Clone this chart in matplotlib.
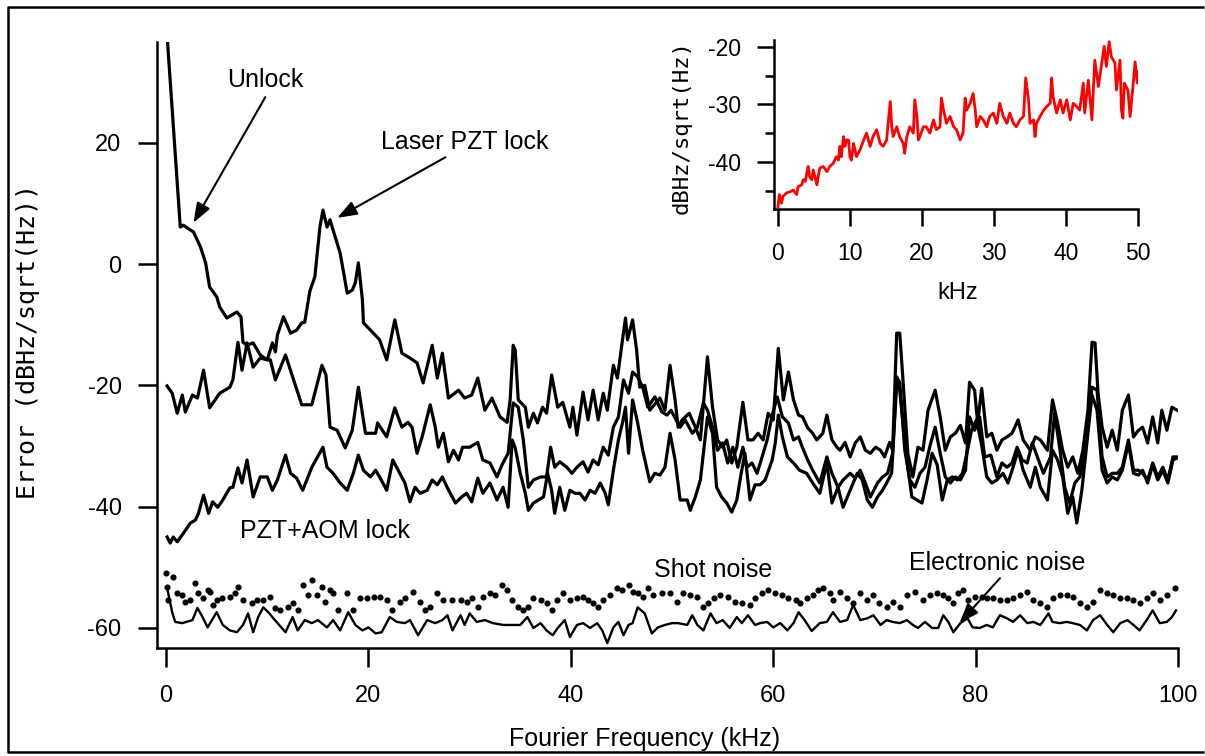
import numpy as np
import matplotlib
matplotlib.use("Agg")
import matplotlib.pyplot as plt
from matplotlib.lines import Line2D

plt.rcParams['font.family'] = ['Liberation Sans', 'DejaVu Sans']
plt.rcParams['axes.unicode_minus'] = False

# (frequency kHz, error dBHz/sqrt(Hz)) for each trace
laser = [(0.1,-20.1),(0.6,-21.3),(1.1,-24.6),(1.6,-21.6),(1.9,-24.4),(2.6,-21.6),(3.1,-22.1),(3.7,-17.5),(4.3,-23.7),
         (5.3,-21.3),(6.3,-20.3),(6.6,-19.1),(7.1,-12.9),(7.5,-17.5),(8.0,-13.0),(8.6,-17.0),(9.3,-15.5),(10.0,-15.8),
         (10.5,-13.0),(10.8,-14.5),(11.0,-11.7),(11.6,-8.7),(12.3,-11.4),(12.9,-10.9),(13.4,-9.7),(13.7,-9.6),(14.2,-4.5),
         (14.7,-2.1),(15.2,6.1),(15.5,8.9),(15.9,6.1),(16.2,7.3),(16.5,5.6),(17.2,1.8),(17.9,-4.8),(18.4,-4.3),(18.7,-3.1),
         (19.0,0.2),(19.4,-5.9),(19.5,-9.7),(20.2,-10.9),(21.1,-12.5),(21.8,-15.8),(22.6,-9.2),(23.3,-14.7),(24.1,-15.5),
         (24.8,-16.3),(25.4,-19.6),(26.3,-13.4),(26.8,-18.8),(27.3,-14.7),(27.9,-22.1),(28.9,-20.8),(29.5,-22.1),(30.2,-21.6),
         (30.8,-18.8),(31.5,-24.1),(32.2,-22.1),(33.0,-25.2),(33.7,-26.1),(34.0,-22.4),(34.3,-13.4),(34.5,-14.2),(34.8,-22.4),
         (35.5,-23.6),(35.8,-26.9),(36.3,-24.6),(36.7,-26.2),(37.2,-23.6),(37.6,-24.6),(38.1,-18.3),(38.7,-23.6),(39.2,-22.8),
         (39.9,-26.9),(40.2,-23.6),(40.6,-28.2),(41.2,-21.1),(41.7,-25.7),(42.2,-20.8),(42.7,-25.7),(43.2,-21.3),(43.6,-24.1),
         (44.2,-16.7),(44.6,-18.8),(45.1,-12.5),(45.4,-8.9),(45.6,-12.5),(46.1,-9.2),(46.5,-14.2),(46.8,-20.3),(47.3,-20.0),
         (47.8,-24.1),(48.8,-22.1),(49.3,-24.1),(49.8,-16.7),(50.3,-22.4),(50.6,-26.9),(51.0,-25.7),(51.7,-24.6),(52.3,-26.9),
         (52.8,-29.0),(53.5,-15.3),(54.0,-23.6),(54.5,-29.0),(55.0,-30.2),(55.4,-29.0),(55.9,-32.8),(56.4,-30.2),(57.0,-22.8),
         (57.5,-29.0),(58.0,-29.0),(58.5,-27.9),(59.0,-29.0),(59.5,-24.6),(60.0,-25.7),(60.5,-13.9),(61.0,-22.4),(61.5,-17.8),
         (62.0,-22.4),(62.5,-24.9),(62.9,-25.2),(63.4,-27.0),(63.9,-27.9),(64.3,-29.0),(64.9,-27.9),(65.3,-24.9),(65.8,-29.0),
         (66.3,-30.2),(66.6,-30.7),(67.1,-29.4),(67.6,-31.8),(68.1,-29.5),(68.6,-28.5),(69.1,-30.7),(69.6,-31.2),(70.1,-30.2),
         (70.6,-30.7),(71.0,-31.8),(71.5,-29.4),(71.8,-30.7),(72.2,-11.4),(72.5,-11.4),(72.8,-18.6),(73.3,-31.2),(73.8,-35.1),
         (74.3,-30.2),(74.8,-30.7),(75.3,-24.1),(76.0,-20.8),(76.5,-25.2),(77.0,-30.7),(77.5,-28.5),(78.0,-27.9),(78.5,-26.6),
         (79.0,-29.5),(79.4,-19.5),(79.9,-20.8),(80.2,-26.2),(80.6,-20.5),(81.1,-28.5),(81.6,-27.9),(82.1,-30.7),(82.6,-29.0),
         (83.1,-28.5),(83.6,-27.9),(84.2,-25.7),(84.7,-29.0),(85.4,-30.7),(85.9,-28.5),(86.4,-29.0),(87.1,-30.7),(87.6,-22.4),
         (88.1,-26.2),(88.6,-30.7),(89.1,-33.5),(89.6,-31.8),(90.1,-34.5),(90.6,-30.7),(91.1,-24.1),(91.5,-12.9),(91.8,-13.0),
         (92.1,-21.3),(92.5,-26.9),(93.0,-30.2),(93.5,-27.4),(94.0,-30.7),(94.5,-24.1),(95.1,-21.6),(95.6,-28.5),(96.1,-27.4),
         (96.5,-26.9),(97.0,-29.5),(97.5,-25.2),(98.0,-29.5),(98.4,-24.1),(98.9,-27.4),(99.4,-23.6),(99.9,-24.1)]

unlock = [(0.0,40.0),(1.4,6.1),(1.7,6.4),(2.4,5.6),(2.7,5.3),(3.4,2.8),(3.9,0.2),(4.3,-3.8),(5.0,-5.4),(5.3,-7.1),
          (6.0,-8.9),(6.5,-8.4),(7.0,-7.9),(7.4,-8.7),(7.6,-12.9),(8.0,-13.4),(8.6,-13.0),(9.3,-15.0),(10.0,-15.8),
          (10.3,-15.8),(10.8,-19.1),(11.8,-15.0),(12.5,-18.6),(13.4,-23.2),(14.4,-23.2),(15.4,-16.7),(15.8,-18.3),
          (16.2,-26.9),(16.9,-27.4),(17.7,-30.3),(18.4,-27.4),(19.0,-20.3),(19.7,-27.9),(20.7,-27.9),(20.9,-26.2),
          (21.8,-28.5),(22.6,-23.7),(23.3,-26.9),(23.9,-26.1),(24.3,-26.9),(24.8,-31.2),(25.3,-28.5),(26.1,-23.2),
          (26.6,-26.9),(26.9,-30.2),(27.4,-27.9),(27.9,-32.6),(28.4,-30.7),(28.9,-32.3),(29.3,-30.2),(30.0,-30.2),
          (30.8,-29.4),(31.3,-32.3),(32.0,-32.8),(32.7,-35.1),(33.2,-33.1),(33.8,-31.2),(34.3,-22.9),(34.8,-23.6),
          (35.3,-29.0),(35.8,-36.8),(36.3,-35.6),(37.0,-35.1),(37.6,-35.1),(38.0,-30.2),(38.4,-33.5),(38.9,-32.6),
          (39.6,-33.5),(40.1,-34.5),(40.6,-33.5),(41.2,-32.6),(41.7,-34.3),(42.2,-32.3),(42.7,-33.1),(43.2,-30.2),
          (43.7,-31.5),(44.2,-26.9),(44.7,-25.2),(45.2,-19.1),(45.7,-21.3),(46.1,-17.8),(46.6,-18.6),(47.1,-20.3),
          (47.6,-23.6),(48.3,-21.9),(49.0,-24.4),(49.5,-24.9),(49.9,-24.1),(50.3,-25.4),(50.8,-26.9),(51.3,-25.7),
          (52.0,-27.9),(52.5,-26.9),(53.1,-22.9),(53.5,-24.1),(54.0,-26.9),(54.5,-30.7),(55.0,-29.5),(55.5,-32.8),
          (56.0,-30.2),(56.5,-33.5),(57.0,-30.2),(57.4,-33.5),(57.9,-32.8),(58.4,-34.5),(58.9,-31.8),(59.4,-29.0),
          (59.9,-24.9),(60.4,-21.9),(60.9,-25.2),(61.5,-26.2),(62.0,-29.0),(62.5,-28.5),(62.9,-30.3),(63.4,-32.3),
          (63.9,-34.0),(64.6,-36.1),(65.3,-31.8),(65.8,-34.5),(66.4,-36.8),(66.9,-35.6),(67.6,-34.5),(68.1,-35.3),
          (68.6,-34.0),(69.1,-36.1),(69.6,-38.4),(70.3,-36.1),(70.8,-35.1),(71.3,-34.5),(71.8,-31.2),(72.2,-18.6),
          (72.5,-19.5),(73.0,-30.7),(73.5,-35.6),(74.0,-36.8),(74.5,-34.5),(75.0,-33.5),(75.5,-29.9),(76.0,-26.9),
          (76.5,-31.2),(77.0,-35.1),(77.5,-36.1),(78.0,-35.1),(78.5,-35.6),(79.0,-34.0),(79.4,-25.2),(79.9,-27.4),
          (80.4,-25.2),(80.9,-31.8),(81.5,-31.5),(82.1,-35.1),(82.6,-32.8),(83.1,-33.5),(83.6,-32.8),(84.1,-30.2),
          (84.6,-32.3),(85.1,-32.8),(85.6,-29.5),(86.1,-31.8),(86.7,-34.5),(87.4,-31.8),(87.8,-24.6),(88.3,-30.2),
          (88.8,-36.8),(89.3,-39.4),(89.8,-36.1),(90.3,-35.1),(90.8,-31.2),(91.5,-20.3),(92.0,-20.8),(92.5,-31.8),
          (93.0,-35.1),(93.5,-34.5),(94.0,-34.5),(94.5,-33.5),(95.1,-29.0),(95.6,-34.0),(96.1,-34.0),(96.5,-34.5),
          (97.0,-35.6),(97.5,-32.8),(98.0,-35.1),(98.5,-33.5),(99.0,-35.6),(99.5,-31.8),(99.9,-31.8)]

aom = [(0.1,-45.0),(0.4,-46.0),(0.7,-45.0),(1.1,-45.8),(1.7,-44.4),(2.4,-42.7),(2.9,-42.2),(3.2,-41.1),(3.7,-38.1),
       (4.2,-41.1),(4.6,-39.2),(5.1,-40.1),(5.6,-38.9),(6.3,-36.9),(6.6,-36.8),(7.1,-33.6),(7.5,-36.1),(8.0,-32.3),
       (8.6,-38.4),(9.3,-35.1),(10.0,-35.1),(10.5,-37.3),(11.0,-35.6),(11.8,-31.5),(12.3,-34.5),(12.9,-35.3),(13.5,-37.3),
       (14.4,-33.5),(15.5,-30.2),(15.9,-33.5),(16.5,-34.5),(17.2,-36.1),(17.9,-37.3),(18.5,-34.5),(19.0,-31.5),(19.5,-34.0),
       (20.2,-35.1),(20.7,-34.0),(21.1,-35.1),(21.8,-37.3),(22.4,-32.3),(23.1,-34.5),(23.6,-36.1),(24.1,-39.2),(24.6,-36.8),
       (25.1,-37.8),(25.8,-37.3),(26.3,-35.6),(26.8,-36.4),(27.3,-35.1),(27.8,-36.9),(28.6,-39.4),(29.2,-38.4),(29.7,-37.8),
       (30.2,-39.2),(30.8,-35.3),(31.3,-37.8),(32.0,-36.1),(32.7,-38.9),(33.3,-36.8),(33.8,-40.1),(34.2,-29.0),(34.5,-30.3),
       (35.0,-34.5),(35.5,-37.8),(35.8,-40.6),(36.3,-39.4),(36.8,-38.9),(37.3,-38.4),(37.7,-34.5),(38.1,-37.3),(38.4,-41.1),
       (38.9,-36.8),(39.4,-40.6),(39.9,-37.3),(40.4,-37.8),(40.9,-37.8),(41.4,-38.9),(41.9,-37.3),(42.4,-37.8),(42.9,-36.1),
       (43.4,-37.8),(43.7,-39.7),(44.2,-34.0),(44.7,-29.0),(45.1,-26.2),(45.4,-23.6),(45.7,-31.2),(46.1,-22.4),(46.6,-26.2),
       (47.1,-30.7),(47.8,-35.9),(48.3,-34.5),(48.8,-34.8),(49.3,-33.5),(49.8,-27.9),(50.3,-32.3),(50.8,-38.9),(51.5,-38.9),
       (51.8,-40.6),(52.3,-38.4),(52.8,-35.6),(53.1,-31.2),(53.5,-25.2),(54.0,-27.9),(54.4,-36.8),(54.9,-38.4),(55.4,-39.4),
       (55.9,-40.9),(56.4,-38.9),(56.8,-34.8),(57.2,-31.2),(57.7,-38.9),(58.2,-36.4),(58.7,-36.4),(59.2,-35.6),(59.9,-32.3),
       (60.2,-29.5),(60.5,-24.9),(60.9,-28.5),(61.4,-31.8),(62.0,-32.8),(62.6,-34.0),(63.3,-34.5),(63.9,-36.1),(64.6,-37.8),
       (65.3,-32.8),(65.8,-39.4),(66.4,-36.8),(66.9,-40.1),(67.6,-37.3),(68.3,-34.5),(68.8,-35.6),(69.3,-38.9),(69.8,-40.1),
       (70.3,-38.4),(70.8,-37.3),(71.2,-36.1),(71.7,-34.5),(72.2,-19.6),(72.5,-20.8),(73.2,-32.3),(73.7,-38.4),(74.2,-38.9),
       (74.7,-39.4),(75.2,-35.6),(75.7,-31.2),(76.2,-33.1),(76.7,-38.9),(77.2,-35.6),(77.7,-35.1),(78.2,-35.6),(78.7,-34.5),
       (79.2,-30.7),(79.6,-27.4),(80.1,-25.7),(80.6,-29.9),(81.1,-35.1),(81.6,-36.1),(82.1,-35.6),(82.7,-34.5),(83.2,-36.1),
       (83.7,-33.5),(84.2,-30.7),(84.7,-34.0),(85.4,-36.8),(85.9,-33.5),(86.4,-36.8),(87.1,-38.9),(87.6,-30.7),(88.1,-32.3),
       (88.6,-35.1),(89.1,-41.1),(89.6,-38.4),(90.0,-42.7),(90.5,-37.3),(91.0,-29.5),(91.5,-21.6),(92.0,-24.1),(92.5,-34.0),
       (93.0,-36.1),(93.5,-35.1),(94.0,-35.6),(94.5,-34.0),(95.1,-29.5),(95.6,-34.5),(96.1,-34.8),(96.5,-34.0),(97.0,-36.1),
       (97.5,-33.1),(98.0,-35.6),(98.5,-34.0),(99.0,-36.1),(99.5,-32.3),(99.9,-32.0)]

shot = [(0.0,-51.0),(0.1,-53.3),(0.2,-55.4),(0.7,-51.6),(1.1,-54.2),(1.6,-54.6),(1.9,-55.7),(2.4,-55.4),(2.9,-52.6),
        (3.2,-54.2),(3.6,-55.1),(4.1,-53.8),(4.3,-54.1),(4.6,-56.2),(5.0,-55.4),(5.5,-55.1),(6.3,-54.9),(6.8,-54.2),
        (7.1,-53.3),(7.6,-55.4),(8.5,-55.9),(9.0,-55.4),(9.6,-55.4),(10.3,-54.9),(10.8,-56.7),(11.3,-57.1),(12.0,-56.6),
        (12.5,-55.9),(13.0,-57.1),(13.5,-52.9),(14.0,-54.6),(14.4,-52.1),(14.9,-54.6),(15.4,-53.3),(15.7,-55.7),(16.2,-53.8),
        (16.5,-54.2),(17.0,-57.1),(17.9,-54.2),(18.5,-57.1),(19.2,-55.1),(19.9,-55.1),(20.5,-54.9),(21.1,-54.9),(21.8,-55.4),
        (22.3,-57.1),(23.1,-55.7),(23.6,-55.1),(24.4,-54.1),(25.1,-55.7),(25.6,-57.1),(26.1,-56.6),(26.8,-54.2),(27.4,-55.4),
        (28.3,-55.4),(29.1,-55.4),(29.7,-55.7),(30.2,-55.1),(30.8,-56.6),(31.3,-54.9),(32.0,-54.2),(32.5,-54.6),(33.2,-52.9),
        (33.7,-53.8),(34.2,-55.4),(34.8,-56.6),(35.3,-57.1),(35.8,-56.6),(36.3,-55.1),(37.0,-55.4),(37.6,-55.9),(38.1,-57.1),
        (38.6,-55.4),(39.2,-54.2),(39.9,-55.4),(40.6,-55.1),(41.2,-54.9),(41.7,-55.4),(42.2,-55.9),(42.7,-56.6),(43.2,-55.4),
        (43.9,-54.6),(44.6,-53.4),(45.1,-53.8),(45.7,-52.9),(46.1,-54.1),(46.6,-54.2),(47.1,-54.9),(47.6,-53.4),(48.1,-54.6),
        (49.0,-54.2),(49.8,-54.2),(50.5,-55.7),(51.1,-54.2),(51.8,-54.6),(52.5,-54.9),(53.1,-56.6),(53.6,-55.9),(54.1,-55.1),
        (54.7,-54.6),(55.5,-54.9),(56.2,-55.7),(56.9,-55.9),(57.7,-56.2),(58.2,-55.1),(58.9,-54.2),(59.5,-53.8),(60.2,-54.2),
        (60.9,-54.6),(61.5,-55.1),(62.2,-55.4),(62.6,-55.9),(63.3,-55.1),(63.9,-54.6),(64.4,-53.8),(64.9,-53.4),(65.6,-54.2),
        (65.9,-55.4),(66.6,-54.1),(67.3,-55.1),(67.9,-55.9),(68.6,-54.2),(69.3,-55.4),(69.9,-54.6),(70.5,-55.9),(71.2,-56.6),
        (71.8,-55.7),(72.5,-56.6),(73.2,-54.6),(74.0,-54.1),(74.8,-55.4),(75.5,-54.6),(76.2,-54.2),(76.8,-54.6),(77.3,-55.1),
        (77.8,-55.9),(78.3,-54.2),(78.8,-53.8),(79.2,-55.4),(79.9,-54.9),(80.6,-54.9),(81.1,-55.1),(81.7,-55.1),(82.4,-55.4),
        (83.1,-55.4),(83.7,-55.1),(84.4,-54.6),(85.1,-54.1),(85.7,-55.4),(86.4,-55.9),(87.1,-56.6),(87.6,-55.1),(88.3,-54.6),
        (89.0,-54.6),(89.6,-54.9),(90.3,-55.9),(91.0,-56.6),(91.6,-55.7),(92.3,-53.8),(93.0,-54.2),(93.6,-54.6),(94.3,-55.1),
        (95.0,-55.1),(95.6,-55.4),(96.2,-55.9),(96.9,-55.1),(97.5,-54.2),(98.2,-55.4),(98.9,-54.6),(99.7,-53.4)]

electronic = [(0.1,-53.4),(0.6,-57.4),(0.9,-59.0),(1.6,-59.2),(2.6,-58.7),(3.1,-56.7),(3.6,-58.2),(4.1,-59.9),(5.0,-57.4),
              (5.6,-59.5),(6.3,-60.4),(7.0,-60.7),(7.6,-59.5),(8.1,-57.6),(8.6,-60.7),(9.1,-58.2),(9.6,-56.6),(10.1,-57.4),
              (10.6,-58.4),(11.8,-60.7),(12.5,-58.2),(13.0,-60.4),(13.7,-58.7),(14.4,-59.2),(15.0,-58.7),(15.9,-59.9),
              (16.5,-58.7),(17.2,-60.4),(18.0,-57.4),(18.7,-59.5),(19.4,-60.4),(20.0,-59.9),(20.7,-60.9),(21.3,-60.7),
              (22.1,-58.2),(22.8,-59.0),(23.6,-59.2),(24.1,-58.7),(24.9,-61.2),(25.8,-58.7),(26.6,-59.2),(27.3,-58.7),
              (27.8,-57.9),(28.3,-60.4),(29.1,-57.9),(29.5,-59.5),(30.0,-57.6),(30.7,-59.0),(31.5,-58.7),(32.3,-59.2),
              (33.3,-59.5),(34.2,-59.5),(35.0,-59.5),(35.7,-58.2),(36.3,-60.0),(37.0,-59.2),(37.6,-60.4),(38.2,-61.2),
              (38.7,-60.0),(39.4,-58.7),(39.9,-61.5),(40.6,-59.5),(41.2,-59.2),(41.9,-60.0),(42.6,-59.2),(43.1,-60.4),
              (43.6,-62.5),(44.2,-59.9),(44.7,-59.0),(45.2,-61.2),(45.7,-59.5),(46.1,-59.2),(46.6,-56.6),(47.3,-57.6),
              (48.0,-60.9),(48.6,-59.9),(49.3,-59.5),(50.0,-59.2),(50.6,-59.2),(51.5,-59.5),(52.0,-57.9),(52.5,-59.5),
              (53.1,-60.4),(53.8,-57.6),(54.4,-59.2),(55.0,-58.7),(55.7,-60.0),(56.4,-58.2),(56.9,-59.2),(57.5,-57.9),
              (58.2,-59.5),(58.7,-59.2),(59.4,-59.0),(60.0,-59.9),(60.7,-59.2),(61.4,-60.4),(62.0,-59.2),(62.5,-57.4),
              (63.1,-58.7),(63.8,-60.5),(64.6,-59.2),(65.3,-59.0),(65.9,-57.4),(66.6,-59.0),(67.3,-58.7),(67.9,-56.2),
              (68.6,-58.7),(69.3,-58.4),(69.9,-57.9),(70.6,-59.5),(71.2,-58.7),(71.8,-59.0),(72.5,-59.2),(73.2,-58.7),
              (73.8,-59.5),(74.3,-60.0),(75.0,-59.0),(75.7,-60.0),(76.3,-60.0),(76.8,-57.9),(77.3,-59.0),(77.8,-60.7),
              (78.5,-59.2),(79.2,-58.4),(79.7,-59.9),(80.4,-60.0),(81.1,-59.5),(81.7,-59.9),(82.4,-57.9),(83.1,-58.4),
              (83.7,-59.0),(84.4,-57.9),(85.1,-59.2),(85.7,-59.0),(86.4,-59.5),(87.2,-57.6),(87.6,-59.0),(88.3,-59.2),
              (89.0,-59.0),(89.6,-59.2),(90.3,-59.5),(91.0,-60.4),(91.6,-58.7),(92.3,-57.9),(93.0,-59.5),(93.6,-60.7),
              (94.3,-59.2),(95.0,-58.7),(95.6,-59.5),(96.2,-60.4),(96.9,-58.7),(97.5,-57.1),(98.2,-59.2),(98.9,-59.0),
              (99.4,-58.2),(99.8,-57.1)]

# 0-50 kHz detail shown in the inset
inset = [(0.0,-47.8),(0.2,-45.7),(0.5,-47.2),(0.7,-46.0),(1.2,-45.4),(1.7,-45.2),(2.1,-44.9),(2.6,-45.7),(2.8,-44.3),
         (3.3,-44.0),(3.5,-43.1),(3.8,-43.4),(4.0,-42.0),(4.2,-40.8),(4.4,-42.6),(4.7,-43.1),(4.9,-41.4),(5.4,-44.0),
         (5.6,-42.6),(5.8,-41.1),(6.3,-40.8),(6.8,-41.7),(7.2,-40.8),(7.7,-40.2),(8.1,-39.1),(8.4,-39.7),(8.6,-37.3),
         (8.8,-39.1),(9.1,-35.6),(9.3,-37.3),(9.5,-36.2),(9.8,-36.2),(10.0,-39.1),(10.2,-39.7),(10.5,-36.8),(10.9,-39.1),
         (11.4,-37.9),(11.9,-36.2),(12.3,-35.0),(12.8,-37.3),(13.2,-35.6),(13.7,-34.4),(14.2,-36.8),(14.6,-37.3),
         (15.1,-36.2),(15.3,-33.3),(15.6,-29.5),(15.8,-33.9),(16.0,-35.6),(16.5,-33.9),(16.9,-35.6),(17.4,-36.8),
         (17.6,-38.5),(17.9,-35.6),(18.3,-33.9),(18.8,-35.0),(19.0,-29.2),(19.3,-32.1),(19.5,-36.2),(19.7,-35.6),
         (20.2,-33.9),(20.6,-33.9),(21.1,-35.0),(21.6,-32.7),(22.0,-34.4),(22.5,-33.9),(22.7,-28.9),(23.0,-31.0),
         (23.4,-33.3),(23.9,-32.1),(24.4,-33.9),(24.8,-34.4),(25.3,-36.2),(25.7,-35.0),(26.0,-28.9),(26.2,-31.0),
         (26.7,-29.8),(27.1,-28.1),(27.4,-31.0),(27.6,-33.9),(28.1,-32.1),(28.5,-32.7),(29.0,-33.9),(29.4,-32.1),
         (29.9,-31.5),(30.4,-33.3),(30.8,-29.8),(31.3,-32.1),(31.8,-33.3),(32.2,-31.5),(32.7,-33.3),(33.1,-33.9),
         (33.6,-32.7),(34.1,-32.1),(34.4,-25.4),(34.8,-29.2),(35.0,-33.3),(35.5,-32.7),(35.7,-35.6),(35.9,-33.3),
         (36.4,-32.1),(36.9,-31.0),(37.3,-30.4),(37.8,-29.8),(38.0,-25.4),(38.2,-28.6),(38.7,-31.5),(39.2,-29.2),
         (39.6,-31.5),(40.1,-29.2),(40.6,-32.7),(41.0,-29.8),(41.5,-30.4),(41.9,-31.0),(42.4,-26.3),(42.6,-31.5),
         (43.1,-25.8),(43.6,-32.7),(44.0,-22.3),(44.5,-26.9),(44.9,-23.4),(45.3,-19.9),(45.6,-23.4),(46.0,-19.1),
         (46.3,-21.7),(46.8,-22.8),(47.0,-27.5),(47.5,-22.3),(47.7,-31.0),(47.9,-32.4),(48.1,-26.3),(48.6,-27.5),
         (48.9,-32.1),(49.3,-26.9),(49.6,-22.6),(49.9,-26.3),(50.0,-24.3)]

main_xticks = [0, 20, 40, 60, 80, 100]
main_yticks = [-60, -40, -20, 0, 20]
inset_xticks = [0, 10, 20, 30, 40, 50]
inset_yticks = [-40, -30, -20]
inset_yminor = [-45, -35, -25]

W, H = 1205, 756
fig = plt.figure(figsize=(W / 100, H / 100), dpi=100)
fig.patch.set_facecolor('white')

# frame round the graph: one open polyline (top edge, left edge, bottom edge)
x0, x1, y_top, y_bot = 8 / W, 1204 / W, 1 - 7 / H, 1 - 752 / H
fig.add_artist(Line2D([x1, x0, x0, x1], [y_top, y_top, y_bot, y_bot], transform=fig.transFigure,
                      color='black', lw=1.8, solid_capstyle='butt', clip_on=False))

ax = fig.add_axes([157 / W, 1 - 648 / H, (1178 - 157) / W, (648 - 42) / H])
for pts in [laser, unlock, aom]:
    xs, ys = np.array(pts).T
    ax.plot(xs, ys, color='black', lw=2.3)
ex, ey = np.array(electronic).T
ax.plot(ex, ey, color='black', lw=1.7)
sx, sy = np.array(shot).T
ax.plot(sx, sy, ls='none', marker='o', ms=3.4, color='black')

ax.set_xlim(-0.9, 100)
ax.set_ylim(-63.3, 36.6)
ax.set_xticks(main_xticks)
ax.set_yticks(main_yticks)
for s in ['top', 'right']:
    ax.spines[s].set_visible(False)
for s in ['left', 'bottom']:
    ax.spines[s].set_linewidth(1.8)
ax.tick_params(axis='both', direction='out', length=13.5, width=1.8, labelsize=17)
ax.tick_params(axis='y', pad=12)
ax.tick_params(axis='x', pad=13)

arrow = dict(arrowstyle='-|>,head_length=0.6,head_width=0.22', color='black', lw=1.5,
             mutation_scale=20, shrinkA=0, shrinkB=0)
ax.text(9.8, 30.3, 'Unlock', fontsize=18, ha='center', va='center')
ax.annotate('', xy=(2.7, 6.8), xytext=(9.8, 27.5), arrowprops=arrow)
ax.text(29.5, 20.1, 'Laser PZT lock', fontsize=18, ha='center', va='center')
ax.annotate('', xy=(16.9, 7.6), xytext=(27.6, 17.6), arrowprops=arrow)
ax.text(15.7, -44.0, 'PZT+AOM lock', fontsize=18, ha='center', va='center')
ax.text(54.1, -50.5, 'Shot noise', fontsize=18, ha='center', va='center')
ax.text(82.1, -49.3, 'Electronic noise', fontsize=18, ha='center', va='center')
ax.annotate('', xy=(78.4, -59.2), xytext=(82.4, -51.8), arrowprops=arrow)

fig.text(28 / W, 1 - 342 / H, 'Error (dBHz/sqrt(Hz))', rotation=90, ha='center', va='center',
         fontsize=18, family=['DejaVu Sans Mono'])
fig.text(645 / W, 1 - 739 / H, 'Fourier Frequency (kHz)', ha='center', va='center', fontsize=18)

# inset
ins = fig.add_axes([774 / W, 1 - 209 / H, (1138 - 774) / W, (209 - 40) / H])
ins.set_facecolor('none')
ix, iy = np.array(inset).T
ins.plot(ix, iy, color='#ff0000', lw=2.0)
ins.set_xlim(-0.55, 50.0)
ins.set_ylim(-48.2, -18.8)
ins.set_xticks(inset_xticks)
ins.set_yticks(inset_yticks)
ins.set_yticks(inset_yminor, minor=True)
for s in ['top', 'right']:
    ins.spines[s].set_visible(False)
for s in ['left', 'bottom']:
    ins.spines[s].set_linewidth(1.8)
ins.tick_params(axis='both', which='major', direction='out', length=12.5, width=1.8, labelsize=16.5, pad=11)
ins.tick_params(axis='y', which='minor', direction='out', length=6.5, width=1.8)
fig.text(682 / W, 1 - 127 / H, 'dBHz/sqrt(Hz)', rotation=90, ha='center', va='center',
         fontsize=16, family=['DejaVu Sans Mono'])
fig.text(958 / W, 1 - 293 / H, 'kHz', ha='center', va='center', fontsize=17)

fig.savefig('out.png', dpi=100)
